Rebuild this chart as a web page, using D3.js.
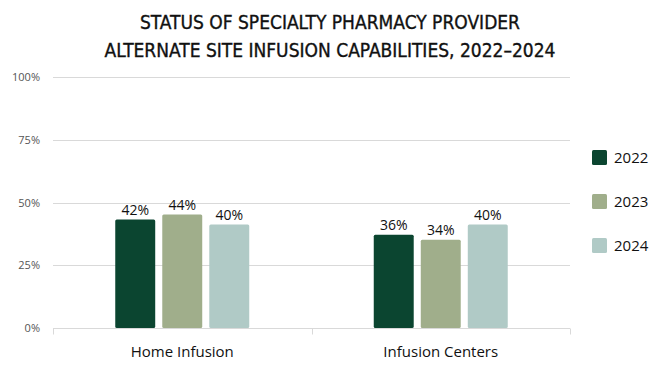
<!DOCTYPE html>
<html>
<head>
<meta charset="utf-8">
<script src="https://cdn.jsdelivr.net/npm/d3@7"></script>
<style>
  body { margin: 0; background: #fff; }
  svg { display: block; font-family: "Open Sans", sans-serif; }
</style>
</head>
<body>
<svg id="chart" width="668" height="374"></svg>
<script>
const categories = ["Home Infusion", "Infusion Centers"];
const years = ["2022", "2023", "2024"];
const values2022 = [42, 36];
const values2023 = [44, 34];
const values2024 = [40, 40];
const yTicks = [0, 25, 50, 75, 100];
const colors = ["#0b4530", "#a0ae8b", "#b0cac6"];

const series = [values2022, values2023, values2024];
const data = categories.map((c, i) => ({
  cat: c,
  vals: years.map((y, j) => ({ year: y, value: series[j][i], idx: j }))
}));

const svg = d3.select("#chart");
const margin = { top: 77, left: 53, right: 98, bottom: 46 };
const W = 668, H = 374;

const x0 = d3.scaleBand().domain(categories)
  .range([margin.left, W - margin.right]).paddingInner(0).paddingOuter(0);
const x1 = d3.scaleBand().domain(years)
  .range([0, 134]).paddingInner(0.15);
const y = d3.scaleLinear().domain([0, 100]).range([H - margin.bottom, margin.top]);

// gridlines
svg.append("g")
  .selectAll("line")
  .data(yTicks.slice(1))
  .join("line")
  .attr("x1", margin.left).attr("x2", W - margin.right)
  .attr("y1", d => Math.round(y(d)) + 0.5).attr("y2", d => Math.round(y(d)) + 0.5)
  .attr("stroke", "#d9d9d9").attr("stroke-width", 1);

// y labels
svg.append("g")
  .selectAll("text")
  .data(yTicks)
  .join("text")
  .attr("x", 40).attr("y", d => y(d) + 4)
  .attr("text-anchor", "end")
  .attr("font-size", 11).attr("fill", "#555")
  .text(d => d + "%");

// bars
const groups = svg.append("g")
  .selectAll("g")
  .data(data)
  .join("g")
  .attr("transform", d => `translate(${x0(d.cat) + x0.bandwidth() / 2 - 67},0)`);

groups.selectAll("rect")
  .data(d => d.vals)
  .join("rect")
  .attr("x", d => x1(d.year))
  .attr("width", x1.bandwidth())
  .attr("y", d => y(d.value) - 3)
  .attr("height", d => y(0) - y(d.value) + 3)
  .attr("rx", 1.5)
  .attr("fill", d => colors[d.idx]);

groups.selectAll("text")
  .data(d => d.vals)
  .join("text")
  .attr("x", d => x1(d.year) + x1.bandwidth() / 2)
  .attr("y", d => y(d.value) - 8)
  .attr("text-anchor", "middle")
  .attr("font-size", 14).attr("fill", "#111")
  .text(d => d.value + "%");

// x axis
const axisY = Math.round(y(0)) + 0.5;
svg.append("line")
  .attr("x1", margin.left).attr("x2", W - margin.right)
  .attr("y1", axisY).attr("y2", axisY)
  .attr("stroke", "#d9d9d9");
const tickXs = [x0(categories[0]), x0(categories[1]), W - margin.right];
svg.append("g").selectAll("line")
  .data(tickXs)
  .join("line")
  .attr("x1", d => Math.round(d) + 0.5).attr("x2", d => Math.round(d) + 0.5)
  .attr("y1", axisY).attr("y2", axisY + 6)
  .attr("stroke", "#d9d9d9");

svg.append("g").selectAll("text")
  .data(categories)
  .join("text")
  .attr("x", d => x0(d) + x0.bandwidth() / 2)
  .attr("y", 357)
  .attr("text-anchor", "middle")
  .attr("font-size", 15).attr("fill", "#111")
  .text(d => d);

// legend
const legend = svg.append("g").selectAll("g")
  .data(years)
  .join("g")
  .attr("transform", (d, i) => `translate(592,${150 + i * 44})`);
legend.append("rect")
  .attr("width", 15).attr("height", 15).attr("rx", 1.5)
  .attr("fill", (d, i) => colors[i]);
legend.append("text")
  .attr("x", 22).attr("y", 13)
  .attr("font-size", 15).attr("fill", "#111")
  .text(d => d);

// title
const title = ["STATUS OF SPECIALTY PHARMACY PROVIDER",
  "ALTERNATE SITE INFUSION CAPABILITIES, 2022\u20132024"];
svg.append("g").selectAll("text")
  .data(title)
  .join("text")
  .attr("x", 330)
  .attr("y", (d, i) => 29 + i * 28)
  .attr("text-anchor", "middle")
  .attr("font-size", 19).attr("fill", "#111")
  .attr("stroke", "#111").attr("stroke-width", 0.35)
  .attr("font-family", "'DejaVu Sans Condensed', 'Open Sans', sans-serif")
  .text(d => d);
</script>
</body>
</html>
